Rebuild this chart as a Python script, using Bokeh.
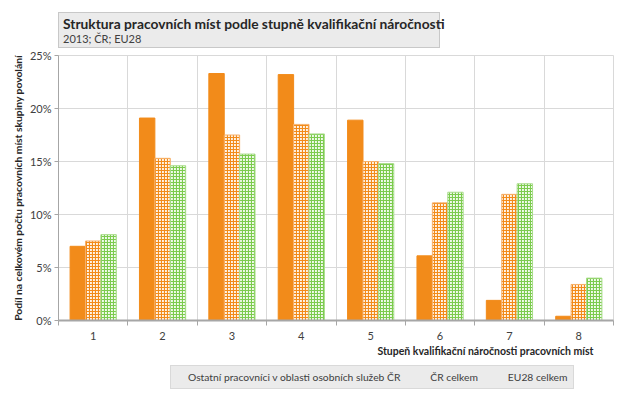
from bokeh.plotting import figure
from bokeh.models import (ColumnDataSource, FixedTicker, PrintfTickFormatter, Title,
                          Legend, LegendItem, Range1d, Div)
from bokeh.layouts import column
from bokeh.transform import dodge
from bokeh.embed import file_html
from bokeh.resources import INLINE

# ---- data ----
categories = ["1", "2", "3", "4", "5", "6", "7", "8"]
ostatni = [7.0, 19.1, 23.3, 23.2, 18.9, 6.1, 1.9, 0.4]
cr_celkem = [7.5, 15.3, 17.5, 18.5, 15.0, 11.1, 11.9, 3.4]
eu28_celkem = [8.1, 14.6, 15.7, 17.6, 14.8, 12.1, 12.9, 4.0]
series_names = ["Ostatní pracovníci v oblasti osobních služeb ČR", "ČR celkem", "EU28 celkem"]
y_ticks = [0, 5, 10, 15, 20, 25]
title_text = "Struktura pracovních míst podle stupně kvalifikační náročnosti"
subtitle_text = "2013; ČR; EU28"
x_label = "Stupeň kvalifikační náročnosti pracovních míst"
y_label = "Podíl na celkovém počtu pracovních míst skupiny povolání"

FONT = "Lato"
ORANGE = "#F28B1A"
GREEN = "#7CCB4E"
W = 0.222

xs = list(range(1, len(categories) + 1))
src = ColumnDataSource(dict(x=xs, a=ostatni, b=cr_celkem, c=eu28_celkem))

styles_bar = [
    dict(fill_color=ORANGE, line_color=ORANGE, line_width=1),
    dict(fill_color="#FFF3E6", line_color="#F6B06A", line_width=1,
         hatch_pattern="cross", hatch_color=ORANGE, hatch_scale=3, hatch_weight=1.2),
    dict(fill_color="#F1FAEC", line_color="#A8DC8A", line_width=1,
         hatch_pattern="cross", hatch_color=GREEN, hatch_scale=3, hatch_weight=1.2),
]

# ---- header box ----
header = Div(
    text=(f'<div style="font-family:{FONT};font-weight:bold;font-size:13.8px;color:#262626;'
          f'line-height:17px;white-space:nowrap;">{title_text}</div>'
          f'<div style="font-family:{FONT};font-size:11px;color:#404040;line-height:14px;">'
          f'{subtitle_text}</div>'),
    width=382, height=36, margin=(12, 0, 0, 58),
    styles={"background-color": "#EBEBEB", "border": "1px solid #C8C8C8",
            "box-sizing": "border-box", "padding": "2px 0 0 4px"})

# ---- main chart ----
p = figure(frame_width=555, frame_height=265, x_range=Range1d(0.5, len(categories) + 0.5),
           y_range=Range1d(0, 25), output_backend="svg", toolbar_location=None,
           min_border_left=58, min_border_right=6, min_border_top=7, min_border_bottom=42)
p.title.text = ""
p.background_fill_color = "white"
p.border_fill_color = "white"
p.outline_line_color = "#D9D9D9"

p.vbar(x=dodge("x", -W, range=p.x_range), top="a", width=W, source=src, **styles_bar[0])
p.vbar(x=dodge("x", 0, range=p.x_range), top="b", width=W, source=src, **styles_bar[1])
p.vbar(x=dodge("x", W, range=p.x_range), top="c", width=W, source=src, **styles_bar[2])

boundaries = [i + 0.5 for i in range(0, len(categories) + 1)]
p.xaxis.ticker = FixedTicker(ticks=xs, minor_ticks=boundaries)
p.xaxis.major_label_overrides = {i + 1: c for i, c in enumerate(categories)}
p.xaxis.major_tick_out = 0
p.xaxis.major_tick_in = 0
p.xaxis.minor_tick_out = 5
p.xaxis.minor_tick_in = 0
p.xaxis.minor_tick_line_color = "#A6A6A6"
p.xaxis.axis_line_color = "#A6A6A6"
p.xaxis.axis_line_width = 2
p.xaxis.major_label_standoff = 6
p.xaxis.major_label_text_font = FONT
p.xaxis.major_label_text_font_size = "11px"
p.xaxis.major_label_text_color = "#404040"

p.yaxis.ticker = FixedTicker(ticks=y_ticks)
p.yaxis.formatter = PrintfTickFormatter(format="%d%%")
p.yaxis.major_tick_out = 4
p.yaxis.major_tick_in = 0
p.yaxis.minor_tick_line_color = None
p.yaxis.axis_line_color = "#A6A6A6"
p.yaxis.major_tick_line_color = "#A6A6A6"
p.yaxis.major_label_standoff = 3
p.yaxis.major_label_text_font = FONT
p.yaxis.major_label_text_font_size = "11px"
p.yaxis.major_label_text_color = "#404040"
p.yaxis.axis_label = y_label
p.yaxis.axis_label_standoff = 3
p.yaxis.axis_label_text_font = FONT
p.yaxis.axis_label_text_font_style = "bold"
p.yaxis.axis_label_text_font_size = "10.3px"
p.yaxis.axis_label_text_color = "#262626"

p.xgrid.ticker = FixedTicker(ticks=boundaries)
p.xgrid.grid_line_color = "#D9D9D9"
p.ygrid.grid_line_color = "#D9D9D9"

xt = Title(text=x_label, align="right", offset=20, standoff=1, text_font=FONT,
           text_font_style="bold", text_font_size="10.5px", text_color="#262626")
p.add_layout(xt, "below")

# ---- legend strip (its own small figure, legend drawn inside its frame) ----
lf = figure(width=619, height=35, x_range=Range1d(0, 1), y_range=Range1d(0, 1),
            output_backend="svg", toolbar_location=None,
            x_axis_location=None, y_axis_location=None,
            min_border_left=0, min_border_right=0, min_border_top=0, min_border_bottom=0)
lf.title.text = ""
lf.outline_line_color = None
lf.background_fill_color = "white"
lf.border_fill_color = "white"
lf.grid.visible = False
legend_renderers = [lf.vbar(x=[], top=[], width=0.1, **st) for st in styles_bar]

legend = Legend(items=[LegendItem(label=name, renderers=[r])
                       for name, r in zip(series_names, legend_renderers)],
                orientation="horizontal", location=(112, 8))
legend.glyph_width = 8
legend.glyph_height = 8
legend.label_height = 10
legend.label_standoff = 4
legend.spacing = 18
legend.padding = 5
legend.margin = 0
legend.label_text_font = FONT
legend.label_text_font_size = "10.3px"
legend.label_text_color = "#404040"
legend.background_fill_color = "#EBEBEB"
legend.background_fill_alpha = 1.0
legend.border_line_color = "#C8C8C8"
lf.add_layout(legend)

layout = column(header, p, lf, spacing=0)
open("out.html", "w").write(file_html(layout, INLINE))
